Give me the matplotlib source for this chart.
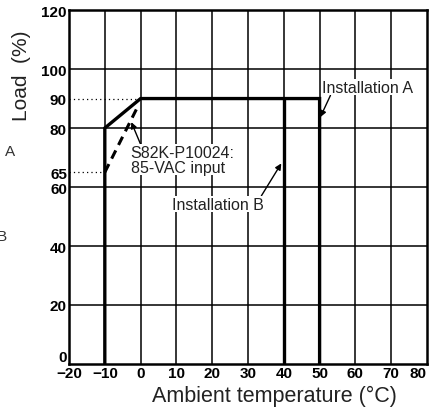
import matplotlib.pyplot as plt

plt.rcParams['font.family'] = ['Liberation Sans', 'DejaVu Sans']

## Data
temp_a = [-10, -10, 0, 50, 50]
load_a = [0, 80, 90, 90, 0]

temp_b = [40, 40]
load_b = [0, 90]

temp_85vac = [-10, -0.5]
load_85vac = [65, 88]

x_ticks = [-20, -10, 0, 10, 20, 30, 40, 50, 60, 70, 80]
x_labels = ['\u221220', '\u221210', '0', '10', '20', '30', '40', '50', '60', '70', '80']
y_ticks = [0, 20, 40, 60, 65, 80, 90, 100, 120]
grid_y = [20, 40, 60, 80, 100]

## Plot
fig = plt.figure(figsize=(4.3, 4.1), dpi=100)
ax = fig.add_axes([0.1605, 0.1098, 0.8325, 0.8632])

ax.set_xlim(-20, 80)
ax.set_ylim(0, 120)

# Grid
for x in x_ticks[1:-1]:
    ax.axvline(x, color='black', lw=1.1, zorder=1)
for y in grid_y:
    ax.axhline(y, color='black', lw=1.1, zorder=1)

# Dotted reference lines
ax.plot([-20, 0], [90, 90], color='black', lw=0.9, ls=(0, (1, 2.5)), zorder=2)
ax.plot([-20, -10], [65, 65], color='black', lw=0.9, ls=(0, (1, 2.5)), zorder=2)

# Curves
ax.plot(temp_a, load_a, color='black', lw=2.4, solid_joinstyle='miter', zorder=3)
ax.plot(temp_b, load_b, color='black', lw=2.4, zorder=3)
ax.plot(temp_85vac, load_85vac, color='black', lw=2.2, ls=(0, (3, 2)), zorder=3)

# Annotations
box = dict(boxstyle='square,pad=0.05', fc='white', ec='none')
arrow = dict(arrowstyle='-|>', color='black', lw=1, mutation_scale=9, shrinkA=0, shrinkB=0)

ax.annotate('Installation A', xy=(50.2, 83.7), xytext=(50.6, 93.9),
            fontsize=11.5, color='#222222', ha='left', va='center', bbox=box,
            arrowprops=dict(arrow, relpos=(0.1, 0)), zorder=4)
ax.annotate('S82K-P10024:\n85-VAC input', xy=(-2.6, 82), xytext=(-2.8, 69.2),
            fontsize=11.5, color='#222222', ha='left', va='center', linespacing=0.95,
            bbox=box, arrowprops=dict(arrow, relpos=(0.1, 1)), zorder=4)
ax.annotate('Installation B', xy=(39.3, 68), xytext=(8.7, 54.2),
            fontsize=11.5, color='#222222', ha='left', va='center', bbox=box,
            arrowprops=dict(arrow, relpos=(0.97, 1)), zorder=4)

# Ticks and labels
ax.set_xticks(x_ticks)
ax.set_xticklabels(x_labels, fontsize=11, fontweight='bold')
ax.get_xticklabels()[-1].set_horizontalalignment('right')
ax.set_yticks(y_ticks)
ax.set_yticklabels([str(v) for v in y_ticks], fontsize=11, fontweight='bold')
ax.get_yticklabels()[0].set_verticalalignment('bottom')
ax.tick_params(axis='both', length=0, pad=1.5)

ax.set_xlabel('Ambient temperature (\u00b0C)', fontsize=15.5, color='#222222')
ax.xaxis.set_label_coords(0.573, -0.058)
ax.text(0.05, 0.815, 'Load  (%)', transform=fig.transFigure, rotation=90,
        fontsize=15, color='#222222', ha='center', va='center')

for sp in ax.spines.values():
    sp.set_linewidth(1.8)

# Stray labels at left margin
fig.text(0.023, 1 - 152 / 410, 'A', fontsize=11, color='#333333', ha='center', va='center')
fig.text(0.004, 1 - 237 / 410, 'B', fontsize=11, color='#333333', ha='center', va='center')

fig.savefig('out.png', dpi=100)
plt.close(fig)
